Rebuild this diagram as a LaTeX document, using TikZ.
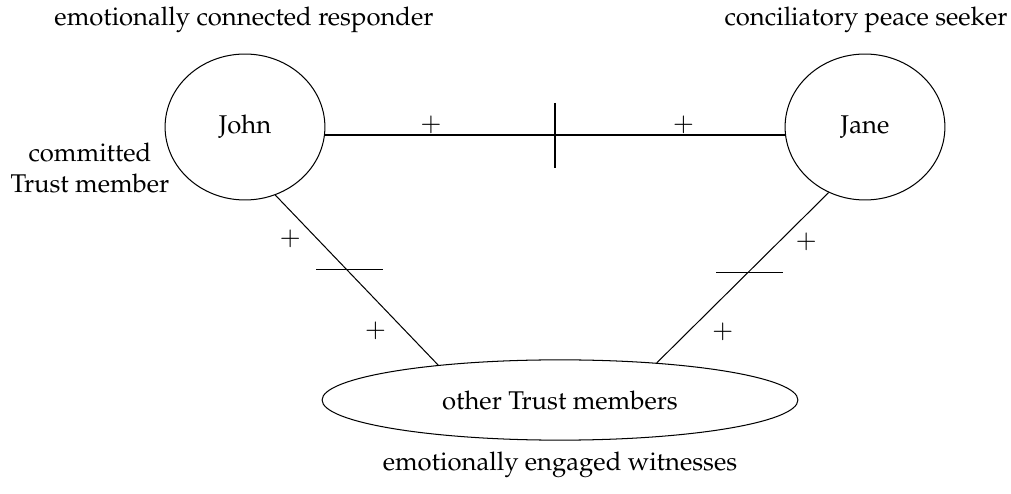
\documentclass[tikz,border=0pt]{standalone}
\usepackage[T1]{fontenc}
\usepackage{mathpazo}
\usetikzlibrary{calc,positioning,shapes}

\begin{document}
\begin{tikzpicture}[x=0.0137cm,y=-0.0137cm,
	person/.style={ellipse,draw,minimum width=2.19cm,minimum height=2cm},
	group/.style={ellipse,draw,minimum width=6.52cm,minimum height=1.1cm}
	]
	\useasboundingbox (0,0) rectangle (1011,494);

	\node[person] (John) at (245,127) {John};
	\node[person] (Jane) at (865,127) {Jane};
	\node[group] (others) at (560,400) {other Trust members};

	\node (johnrole) at (244,20) {emotionally connected responder};
	\node (janerole) at (866,20) {conciliatory peace seeker};
	\node[align=center] (johnmember) at (90,168) {committed\\Trust member};
	\node (othersrole) at (560,465) {emotionally engaged witnesses};

	\draw (John.east |- 0,135) --node[pos=.23,above=-3pt]{$+$} coordinate[pos=.5] (m1) node[pos=.78,above=-3pt]{$+$} (Jane.west |- 0,135);
	\draw ($(m1)+(0,-32)$) -- ($(m1)+(0,33)$);

	\draw (John.-66) --node[pos=.26,left=3pt]{$+$} coordinate[pos=.435] (m2) node[pos=.8,left=4pt]{$+$} (others.164);
	\draw ($(m2)+(-30,0)$) -- ($(m2)+(37,0)$);

	\draw (Jane.-119) --node[pos=.29,right=3pt]{$+$} coordinate[pos=.468] (m3) node[pos=.82,right=6pt]{$+$} (others.21);
	\draw ($(m3)+(-32,0)$) -- ($(m3)+(35,0)$);

\end{tikzpicture}
\end{document}
